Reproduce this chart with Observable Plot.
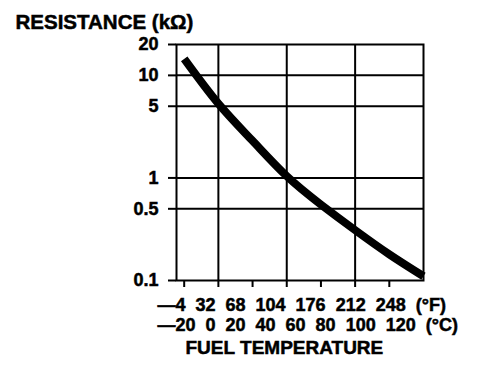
<!DOCTYPE html>
<html><head><meta charset="utf-8">
<script src="https://cdn.jsdelivr.net/npm/d3@7"></script>
<script src="https://cdn.jsdelivr.net/npm/@observablehq/plot@0.6"></script>
<style>body{margin:0;background:#fff} svg{display:block} svg text{stroke:#000;stroke-width:0.5px}</style>
</head><body><div id="chart"></div>
<script>
const temperatureC = [-20, 0, 20, 40, 60, 80, 100, 120];
const resistanceK = [14.5, 5.3, 2.3, 1.04, 0.55, 0.31, 0.18, 0.11];
const yTicks = [20, 10, 5, 1, 0.5, 0.1];
const yGrid = [10, 5, 1, 0.5];
const xGrid = [0, 40, 80];
const xTicks = [-20, 0, 20, 40, 60, 80, 100];
const labelsF = ["—4", "32", "68", "104", "176", "212", "248"];
const labelsC = ["—20", "0", "20", "40", "60", "80", "100", "120"];
const unitF = "(°F)", unitC = "(°C)";
const title = "RESISTANCE (kΩ)";
const xTitle = "FUEL TEMPERATURE";

const gap = "\u00a0\u00a0";
const rowF = [...labelsF, unitF].join(gap);
const rowC = [...labelsC, unitC].join(gap);
const data = temperatureC.map((t, i) => ({t, r: resistanceK[i]}));
const font = "'Liberation Sans', Arial, Helvetica, sans-serif";

const chart = Plot.plot({
  width: 496, height: 374,
  marginLeft: 176, marginRight: 73, marginTop: 44, marginBottom: 94,
  style: {fontFamily: font, fontWeight: "bold", color: "black", background: "white"},
  x: {domain: [-24.5, 120]},
  y: {type: "log", domain: [0.1, 20]},
  marks: [
    Plot.ruleX(xGrid, {stroke: "black", strokeWidth: 2}),
    Plot.ruleY(yGrid, {stroke: "black", strokeWidth: 2}),
    Plot.frame({stroke: "black", strokeWidth: 2}),
    Plot.axisY({ticks: yTicks, tickFormat: d => String(d), tickSize: 8, tickPadding: 10, strokeWidth: 2, fontSize: 18, fontWeight: "bold", label: null}),
    Plot.axisX({ticks: xTicks, tickFormat: () => "", tickSize: 7, strokeWidth: 2, label: null}),
    Plot.line(data, {x: "t", y: "r", curve: "natural", stroke: "black", strokeWidth: 8, strokeLinecap: "butt"}),
    Plot.text([title], {text: d => d, frameAnchor: "top-left", textAnchor: "start", lineAnchor: "bottom", dx: -161, dy: -16, fontSize: 20.5, fontWeight: "bold"}),
    Plot.text([rowF], {text: d => d, frameAnchor: "bottom-left", textAnchor: "start", lineAnchor: "bottom", dx: -19, dy: 30, fontSize: 18, fontWeight: "bold"}),
    Plot.text([rowC], {text: d => d, frameAnchor: "bottom-left", textAnchor: "start", lineAnchor: "bottom", dx: -19, dy: 50, fontSize: 18, fontWeight: "bold"}),
    Plot.text([xTitle], {text: d => d, frameAnchor: "bottom-left", textAnchor: "start", lineAnchor: "bottom", dx: 9, dy: 73, fontSize: 19, fontWeight: "bold"})
  ]
});
document.getElementById("chart").append(chart);
</script>
</body></html>
